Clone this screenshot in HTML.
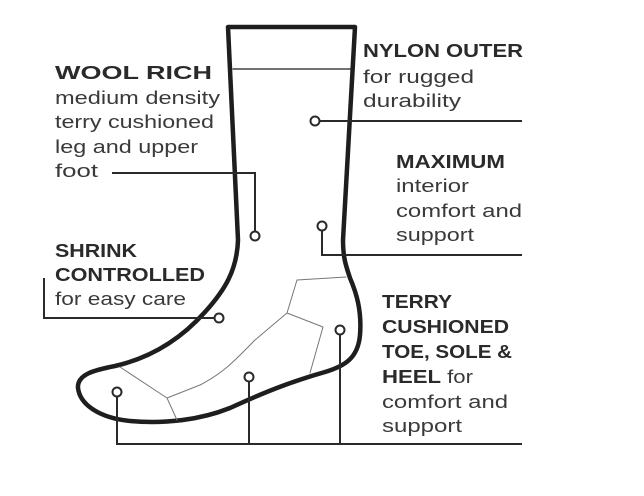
<!DOCTYPE html>
<html><head><meta charset="utf-8"><style>
html,body{margin:0;padding:0;background:#fff;}
svg{display:block;}
text{font-family:"Liberation Sans",sans-serif;font-size:18px;fill:#3a3a3a;}
.b{font-weight:bold;fill:#2a2a2a;}
</style></head><body>
<svg width="644" height="496" viewBox="0 0 644 496" xmlns="http://www.w3.org/2000/svg">
<g fill="none" stroke="#1e1e1e" stroke-linejoin="round" stroke-linecap="round">
<path stroke-width="4.5" d="M228,27 L355,27 L343,240 C343,258 346,266 350,278 C356,292 362,310 360,335 C358,358 345,366 325,372 C290,382 265,392 230,408 C200,420 165,424 130,421 C100,418 80,405 78,388 C77,374 95,370 115,366 C150,358 180,340 205,312 C225,290 237,270 238,240 Z"/>
<path stroke-width="1.2" d="M233,69 L352,69"/>
<path stroke-width="1" stroke="#777" d="M346,277 L297,280 L287,313 L323,327 L310,373 M287,313 L255,340 C235,360 225,372 200,385 L167,398 L120,367 M167,398 L177,420"/>
</g>
<g fill="none" stroke="#2a2a2a" stroke-width="2">
<path d="M112,173 L255,173 L255,231"/>
<circle cx="255" cy="236" r="4.5" fill="#fff"/>
<path d="M320,121 L522,121"/>
<circle cx="315" cy="121" r="4.5" fill="#fff"/>
<path d="M322,231 L322,255 L522,255"/>
<circle cx="322" cy="226" r="4.5" fill="#fff"/>
<path d="M44,278 L44,318 L214,318"/>
<circle cx="219" cy="318" r="4.5" fill="#fff"/>
<path d="M117,397 L117,444 L522,444 M249,382 L249,444 M340,335 L340,444"/>
<circle cx="117" cy="392" r="4.5" fill="#fff"/>
<circle cx="249" cy="377" r="4.5" fill="#fff"/>
<circle cx="340" cy="330" r="4.5" fill="#fff"/>
</g>
<text class="b" x="55" y="79" textLength="157" lengthAdjust="spacingAndGlyphs">WOOL RICH</text>
<text x="55" y="104" textLength="165" lengthAdjust="spacingAndGlyphs">medium density</text>
<text x="55" y="128" textLength="159" lengthAdjust="spacingAndGlyphs">terry cushioned</text>
<text x="55" y="153" textLength="143" lengthAdjust="spacingAndGlyphs">leg and upper</text>
<text x="55" y="177" textLength="43" lengthAdjust="spacingAndGlyphs">foot</text>
<text class="b" x="363" y="57" textLength="160" lengthAdjust="spacingAndGlyphs">NYLON OUTER</text>
<text x="363" y="83" textLength="111" lengthAdjust="spacingAndGlyphs">for rugged</text>
<text x="363" y="107" textLength="98" lengthAdjust="spacingAndGlyphs">durability</text>
<text class="b" x="396" y="168" textLength="109" lengthAdjust="spacingAndGlyphs">MAXIMUM</text>
<text x="396" y="192" textLength="73" lengthAdjust="spacingAndGlyphs">interior</text>
<text x="396" y="217" textLength="126" lengthAdjust="spacingAndGlyphs">comfort and</text>
<text x="396" y="241" textLength="78" lengthAdjust="spacingAndGlyphs">support</text>
<text class="b" x="55" y="257" textLength="82" lengthAdjust="spacingAndGlyphs">SHRINK</text>
<text class="b" x="55" y="281" textLength="150" lengthAdjust="spacingAndGlyphs">CONTROLLED</text>
<text x="55" y="305" textLength="131" lengthAdjust="spacingAndGlyphs">for easy care</text>
<text class="b" x="382" y="308" textLength="70" lengthAdjust="spacingAndGlyphs">TERRY</text>
<text class="b" x="382" y="333" textLength="127" lengthAdjust="spacingAndGlyphs">CUSHIONED</text>
<text class="b" x="382" y="358" textLength="130" lengthAdjust="spacingAndGlyphs">TOE, SOLE &amp;</text>
<text x="382" y="383" textLength="91" lengthAdjust="spacingAndGlyphs"><tspan class="b">HEEL</tspan> for</text>
<text x="382" y="408" textLength="126" lengthAdjust="spacingAndGlyphs">comfort and</text>
<text x="382" y="432" textLength="80" lengthAdjust="spacingAndGlyphs">support</text>
</svg>
</body></html>
